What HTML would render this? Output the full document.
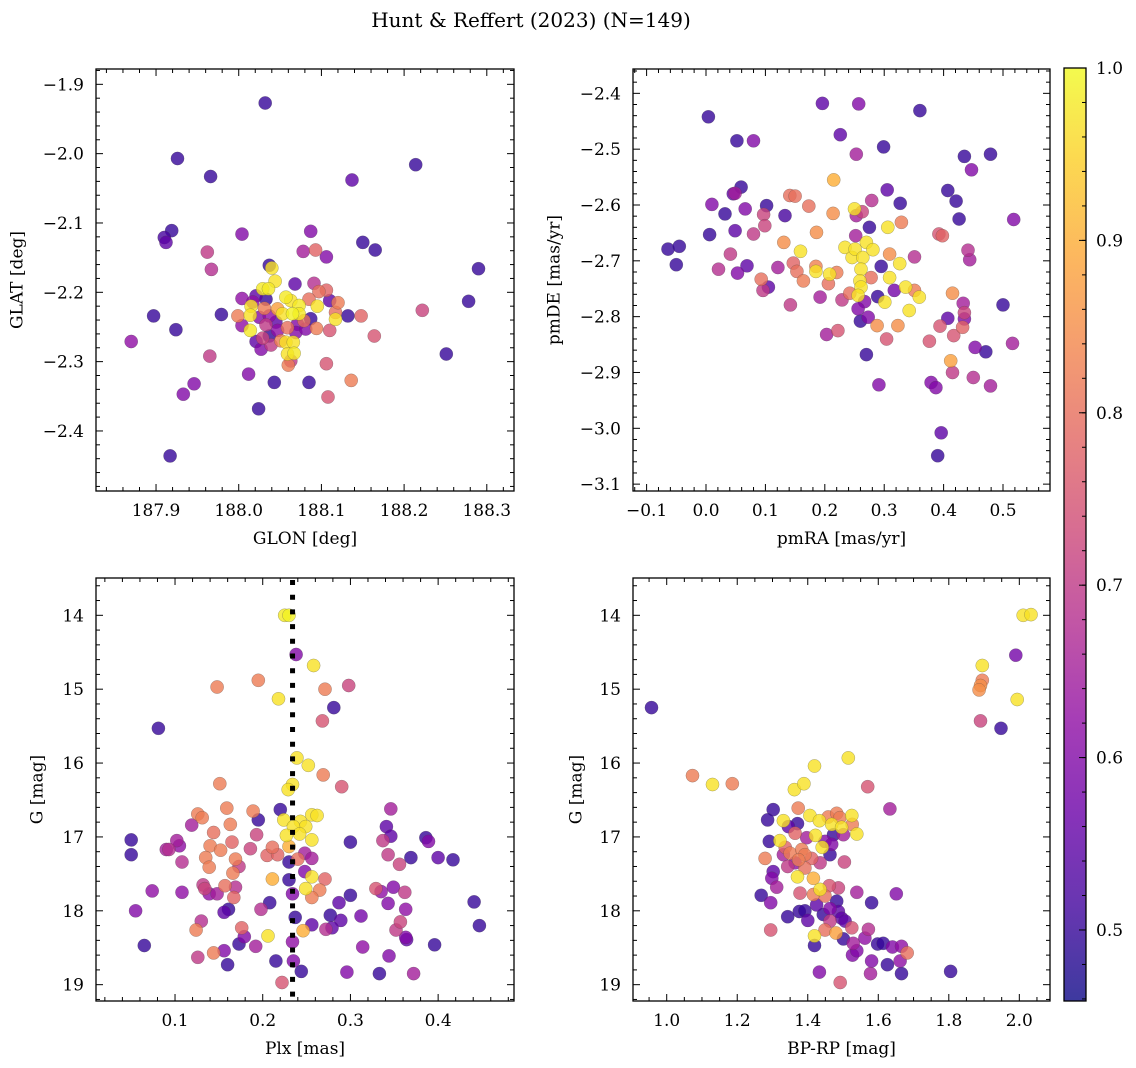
<!DOCTYPE html>
<html><head><meta charset="utf-8"><title>Hunt &amp; Reffert (2023)</title>
<style>
html,body{margin:0;padding:0;background:#fff;}
svg{display:block;font-family:"DejaVu Serif","Liberation Serif",serif;}
</style></head>
<body>
<svg id="fig" width="1136" height="1068" viewBox="0 0 1136 1068" xmlns="http://www.w3.org/2000/svg">
<defs>
<linearGradient id="cbgrad" x1="0" y1="1" x2="0" y2="0">
<stop offset="0" stop-color="#0d0887"/><stop offset="0.1" stop-color="#41049d"/><stop offset="0.2" stop-color="#6a00a8"/><stop offset="0.3" stop-color="#8f0da4"/><stop offset="0.4" stop-color="#b12a90"/><stop offset="0.5" stop-color="#cc4778"/><stop offset="0.6" stop-color="#e16462"/><stop offset="0.7" stop-color="#f2844b"/><stop offset="0.8" stop-color="#fca636"/><stop offset="0.9" stop-color="#fcce25"/><stop offset="1" stop-color="#f0f921"/>
</linearGradient>
</defs>
<text x="531" y="27" text-anchor="middle" font-size="20">Hunt &amp; Reffert (2023) (N=149)</text>
</svg>
<script>
// ---- Panel 1: GLON vs GLAT ----
const tlGlon=[188.032,187.926,187.966,188.214,188.137,187.919,187.910,187.912,188.004,188.087,188.150,188.165,187.962,188.078,188.093,188.106,187.967,188.290,188.037,188.040,188.044,188.068,188.091,188.029,188.036,188.021,188.004,188.097,188.106,188.057,188.063,188.073,188.085,188.110,188.120,188.095,188.278,188.222,188.015,188.031,188.047,188.053,188.065,188.073,188.087,188.117,188.117,188.132,188.148,187.979,187.897,187.999,188.014,188.025,188.037,188.004,188.033,188.059,188.071,188.079,188.094,188.110,188.014,187.924,188.047,188.069,188.164,187.870,188.021,188.029,188.037,188.039,188.027,188.051,188.057,188.066,188.059,188.067,188.063,188.060,187.965,188.106,188.251,188.012,188.043,188.085,188.136,187.946,187.933,188.108,188.024,187.917,188.033,188.045,188.081,188.017];
const tlGlat=[-1.927,-2.007,-2.033,-2.016,-2.038,-2.111,-2.121,-2.128,-2.116,-2.112,-2.128,-2.139,-2.142,-2.141,-2.139,-2.149,-2.167,-2.166,-2.161,-2.165,-2.184,-2.188,-2.187,-2.195,-2.195,-2.205,-2.209,-2.199,-2.197,-2.207,-2.212,-2.219,-2.210,-2.212,-2.215,-2.220,-2.213,-2.226,-2.220,-2.223,-2.224,-2.231,-2.231,-2.231,-2.238,-2.229,-2.239,-2.234,-2.234,-2.232,-2.234,-2.234,-2.233,-2.236,-2.234,-2.248,-2.247,-2.251,-2.246,-2.241,-2.252,-2.255,-2.255,-2.254,-2.255,-2.258,-2.263,-2.271,-2.271,-2.266,-2.263,-2.276,-2.282,-2.270,-2.272,-2.272,-2.289,-2.288,-2.299,-2.305,-2.292,-2.303,-2.289,-2.318,-2.330,-2.330,-2.327,-2.332,-2.347,-2.351,-2.368,-2.436,-2.210,-2.243,-2.253,-2.214];
const tlProb=[.5,.5,.5,.5,.55,.5,.52,.55,.6,.6,.5,.5,.7,.65,.78,.6,.68,.5,.5,.97,.97,.55,.68,.98,.98,.55,.62,.8,.78,.98,.97,.98,.8,.55,.82,.97,.5,.72,.97,.82,.88,.97,.99,.98,.5,.8,.97,.5,.78,.5,.5,.82,.97,.6,.62,.62,.7,.8,.6,.8,.82,.75,.98,.5,.62,.6,.75,.62,.55,.72,.5,.7,.6,.82,.97,.97,.97,.98,.7,.82,.7,.75,.5,.6,.5,.5,.82,.6,.6,.75,.5,.5,.5,.55,.6,.62];
// ---- Panel 2: pmRA vs pmDE ----
const trPmra=[-0.064,-0.045,-0.050,0.004,0.052,0.080,0.006,0.010,0.032,0.049,0.059,0.049,0.046,0.066,0.080,0.041,0.021,0.053,0.069,0.097,0.099,0.102,0.133,0.121,0.093,0.096,0.105,0.142,0.131,0.141,0.150,0.147,0.153,0.164,0.159,0.173,0.186,0.185,0.185,0.192,0.196,0.226,0.215,0.214,0.203,0.222,0.206,0.208,0.220,0.229,0.234,0.246,0.242,0.250,0.253,0.263,0.252,0.253,0.257,0.251,0.264,0.270,0.281,0.261,0.259,0.261,0.256,0.267,0.278,0.275,0.279,0.256,0.273,0.260,0.270,0.288,0.289,0.295,0.301,0.299,0.306,0.305,0.309,0.309,0.317,0.323,0.326,0.327,0.329,0.304,0.291,0.336,0.342,0.359,0.351,0.360,0.351,0.376,0.394,0.392,0.398,0.379,0.387,0.396,0.390,0.407,0.407,0.415,0.417,0.421,0.426,0.412,0.415,0.435,0.433,0.435,0.435,0.432,0.441,0.444,0.447,0.453,0.450,0.471,0.479,0.479,0.500,0.516,0.518];
const trPmde=[-2.679,-2.674,-2.707,-2.442,-2.485,-2.485,-2.653,-2.599,-2.616,-2.646,-2.568,-2.579,-2.580,-2.607,-2.652,-2.688,-2.715,-2.722,-2.709,-2.617,-2.637,-2.601,-2.619,-2.712,-2.733,-2.753,-2.747,-2.779,-2.667,-2.583,-2.584,-2.704,-2.719,-2.736,-2.683,-2.602,-2.649,-2.710,-2.719,-2.765,-2.418,-2.474,-2.555,-2.615,-2.832,-2.825,-2.741,-2.724,-2.721,-2.770,-2.676,-2.694,-2.758,-2.607,-2.619,-2.612,-2.655,-2.509,-2.419,-2.679,-2.694,-2.667,-2.680,-2.715,-2.736,-2.747,-2.762,-2.773,-2.730,-2.640,-2.592,-2.786,-2.801,-2.808,-2.868,-2.816,-2.764,-2.710,-2.774,-2.496,-2.640,-2.573,-2.730,-2.688,-2.753,-2.816,-2.705,-2.597,-2.631,-2.840,-2.922,-2.747,-2.789,-2.765,-2.753,-2.431,-2.693,-2.844,-2.817,-2.652,-2.655,-2.918,-2.927,-3.008,-3.049,-2.574,-2.803,-2.758,-2.834,-2.593,-2.625,-2.879,-2.900,-2.513,-2.776,-2.804,-2.793,-2.819,-2.681,-2.698,-2.537,-2.855,-2.909,-2.863,-2.924,-2.509,-2.779,-2.848,-2.626];
const trProb=[.5,.5,.5,.5,.5,.6,.5,.6,.5,.55,.5,.65,.55,.6,.7,.7,.68,.6,.55,.72,.72,.5,.52,.65,.8,.7,.55,.7,.85,.8,.8,.78,.8,.82,.97,.8,.85,.83,.97,.65,.55,.55,.9,.85,.65,.75,.8,.97,.82,.7,.97,.97,.8,.97,.65,.72,.65,.65,.6,.97,.97,.97,.97,.97,.97,.97,.97,.6,.8,.5,.68,.6,.6,.5,.5,.85,.5,.5,.97,.5,.97,.55,.97,.85,.58,.85,.97,.5,.82,.75,.6,.97,.97,.97,.82,.5,.68,.75,.75,.75,.78,.6,.6,.55,.5,.5,.55,.85,.75,.5,.5,.88,.7,.5,.65,.6,.72,.78,.68,.65,.6,.6,.68,.5,.65,.5,.5,.65,.6];
// ---- Panel 3: Plx vs G ----
const blPlx=[0.225,0.230,0.238,0.258,0.195,0.148,0.271,0.298,0.218,0.281,0.081,0.268,0.239,0.252,0.269,0.151,0.290,0.234,0.229,0.220,0.159,0.189,0.195,0.126,0.131,0.119,0.163,0.144,0.193,0.224,0.243,0.249,0.256,0.262,0.235,0.227,0.242,0.256,0.230,0.050,0.102,0.105,0.090,0.093,0.140,0.152,0.165,0.186,0.211,0.205,0.217,0.248,0.256,0.240,0.230,0.135,0.169,0.173,0.139,0.166,0.108,0.050,0.346,0.341,0.346,0.337,0.386,0.389,0.300,0.343,0.356,0.369,0.400,0.417,0.248,0.256,0.271,0.211,0.230,0.157,0.169,0.132,0.134,0.139,0.148,0.167,0.074,0.108,0.249,0.265,0.256,0.234,0.300,0.329,0.335,0.349,0.362,0.208,0.287,0.343,0.441,0.055,0.156,0.161,0.198,0.363,0.237,0.277,0.289,0.312,0.357,0.130,0.447,0.256,0.246,0.124,0.176,0.179,0.272,0.279,0.206,0.352,0.363,0.364,0.065,0.173,0.192,0.234,0.314,0.396,0.126,0.144,0.156,0.344,0.215,0.235,0.160,0.244,0.296,0.333,0.372,0.222];
const blG=[14.00,14.00,14.53,14.68,14.88,14.97,15.00,14.95,15.13,15.25,15.53,15.43,15.93,16.03,16.16,16.28,16.32,16.29,16.36,16.63,16.61,16.65,16.77,16.69,16.74,16.84,16.83,16.94,16.97,16.77,16.79,16.86,16.70,16.71,16.86,16.98,16.96,17.04,17.13,17.04,17.05,17.12,17.17,17.17,17.12,17.18,17.07,17.16,17.14,17.25,17.24,17.22,17.29,17.30,17.34,17.28,17.30,17.40,17.41,17.49,17.34,17.24,16.62,16.86,16.99,17.05,17.01,17.06,17.07,17.24,17.37,17.28,17.28,17.31,17.47,17.54,17.57,17.57,17.58,17.66,17.68,17.65,17.70,17.77,17.77,17.82,17.73,17.75,17.70,17.72,17.82,17.77,17.79,17.70,17.74,17.68,17.75,17.89,17.89,17.90,17.88,18.00,18.02,17.98,17.98,17.98,18.09,18.06,18.13,18.07,18.15,18.14,18.20,18.19,18.27,18.26,18.23,18.35,18.25,18.23,18.34,18.26,18.36,18.39,18.47,18.45,18.48,18.42,18.49,18.46,18.63,18.57,18.54,18.61,18.68,18.68,18.73,18.82,18.83,18.85,18.85,18.97];
const blProb=[.98,.99,.6,.97,.82,.82,.82,.72,.97,.5,.5,.75,.97,.97,.82,.82,.75,.97,.97,.5,.82,.82,.5,.82,.82,.65,.82,.8,.72,.97,.97,.97,.97,.97,.97,.97,.97,.97,.9,.5,.65,.62,.65,.68,.82,.82,.78,.72,.8,.78,.78,.65,.65,.8,.5,.82,.82,.7,.82,.82,.68,.5,.65,.55,.55,.7,.5,.6,.5,.7,.72,.5,.55,.5,.6,.97,.78,.9,.5,.8,.68,.7,.72,.62,.65,.78,.62,.62,.97,.82,.82,.6,.5,.75,.62,.6,.7,.5,.55,.6,.5,.6,.55,.5,.68,.62,.5,.5,.55,.58,.72,.68,.5,.55,.9,.82,.78,.6,.68,.55,.97,.7,.6,.55,.5,.5,.65,.62,.62,.5,.7,.82,.6,.6,.5,.6,.5,.5,.6,.5,.65,.75];
// ---- Panel 4: BP-RP vs G ----
const brColor=[0.957,1.073,1.130,1.186,1.362,1.389,1.419,1.515,1.570,1.633,1.302,1.286,1.331,1.371,1.345,1.373,1.406,1.433,1.458,1.482,1.491,1.525,1.526,1.468,1.496,1.473,1.539,1.501,1.291,1.321,1.364,1.397,1.422,1.449,1.468,1.441,1.336,1.350,1.383,1.392,1.411,1.331,1.374,1.279,1.435,1.463,1.504,1.343,1.364,1.392,1.302,1.298,1.371,1.416,1.312,1.435,1.461,1.487,1.378,1.416,1.539,1.651,1.268,1.295,1.449,1.482,1.581,1.425,1.463,1.376,1.392,1.487,1.343,1.400,1.444,1.463,1.496,1.506,1.525,1.572,1.295,1.419,1.449,1.480,1.501,1.562,1.419,1.529,1.598,1.614,1.640,1.666,1.682,1.527,1.539,1.662,1.581,1.626,1.433,1.578,1.666,1.805,1.492,2.011,2.033,1.990,1.895,1.895,1.890,1.886,1.994,1.890,1.948];
const brG=[15.25,16.17,16.29,16.28,16.36,16.28,16.04,15.93,16.32,16.62,16.63,16.77,16.78,16.82,16.86,16.61,16.71,16.78,16.73,16.68,16.74,16.71,16.83,16.83,16.87,16.97,16.96,16.97,17.06,17.05,16.95,17.01,16.98,17.06,17.10,17.14,17.14,17.22,17.17,17.24,17.29,17.24,17.31,17.29,17.35,17.24,17.34,17.40,17.35,17.42,17.47,17.56,17.54,17.56,17.68,17.71,17.66,17.69,17.76,17.78,17.75,17.77,17.79,17.89,17.80,17.87,17.89,17.92,17.97,18.01,18.00,18.01,18.08,18.13,18.05,18.14,18.10,18.14,18.23,18.25,18.26,18.34,18.26,18.30,18.38,18.37,18.47,18.44,18.45,18.44,18.49,18.48,18.57,18.60,18.54,18.68,18.68,18.73,18.83,18.85,18.85,18.82,18.97,14.00,13.99,14.54,14.68,14.88,14.95,15.01,15.14,15.43,15.53];
const brProb=[.5,.82,.97,.82,.97,.97,.97,.97,.75,.65,.5,.5,.97,.5,.55,.82,.97,.97,.82,.82,.82,.97,.82,.97,.97,.5,.97,.65,.5,.97,.78,.65,.97,.6,.6,.97,.78,.82,.82,.82,.78,.65,.82,.82,.7,.5,.72,.7,.62,.8,.55,.6,.97,.9,.65,.97,.75,.72,.75,.82,.65,.6,.5,.6,.8,.5,.5,.55,.6,.5,.5,.55,.5,.55,.5,.7,.55,.55,.75,.68,.75,.97,.8,.88,.5,.62,.5,.65,.5,.5,.6,.62,.8,.6,.6,.62,.6,.5,.6,.65,.5,.5,.75,.97,.97,.58,.97,.82,.85,.85,.97,.72,.5];
// ---- Colorbar ticks ----
const cbTicks=[0.5,0.6,0.7,0.8,0.9,1.0];
const cbMin=0.4588, cbMax=1.0;
const refLinePlx=0.234;

const NS="http://www.w3.org/2000/svg";
const svg=document.getElementById('fig');
function el(tag,attrs,parent){const e=document.createElementNS(NS,tag);for(const k in attrs)e.setAttribute(k,attrs[k]);(parent||svg).appendChild(e);return e;}
const stops=["#0d0887","#41049d","#6a00a8","#8f0da4","#b12a90","#cc4778","#e16462","#f2844b","#fca636","#fcce25","#f0f921"];
function hex(h){return [parseInt(h.slice(1,3),16),parseInt(h.slice(3,5),16),parseInt(h.slice(5,7),16)];}
function plasma(v){let t=(v-cbMin)/(cbMax-cbMin);t=Math.max(0,Math.min(1,t));const f=t*10,i=Math.min(9,Math.floor(f)),r=f-i;const a=hex(stops[i]),b=hex(stops[i+1]);return "rgb("+a.map((c,k)=>Math.round(c+(b[k]-c)*r)).join(",")+")";}
function fmt(v,d){const s=Math.abs(v).toFixed(d);return (v<-1e-9?"\u2212":"")+s;}

const panels=[
 {key:"glon-glat",x0:96,x1:514,y0:69,y1:491,xmin:187.8274,xmax:188.3329,ymin:-2.4866,ymax:-1.8779,inv:false,xs:tlGlon,ys:tlGlat,ps:tlProb,xMaj:0.1,xMin:0.02,yMaj:0.1,yMin:0.02,xd:1,yd:1,xl:"GLON [deg]",yl:"GLAT [deg]",ylx:18},
 {key:"pmra-pmde",x0:633,x1:1050,y0:69,y1:491,xmin:-0.1229,xmax:0.5791,ymin:-3.1123,ymax:-2.3564,inv:false,xs:trPmra,ys:trPmde,ps:trProb,xMaj:0.1,xMin:0.02,yMaj:0.1,yMin:0.02,xd:1,yd:1,xl:"pmRA [mas/yr]",yl:"pmDE [mas/yr]",ylx:555},
 {key:"plx-g",x0:96,x1:514,y0:578,y1:1001,xmin:0.0099,xmax:0.4865,ymin:13.495,ymax:19.221,inv:true,xs:blPlx,ys:blG,ps:blProb,xMaj:0.1,xMin:0.02,yMaj:1,yMin:0.2,xd:1,yd:0,xl:"Plx [mas]",yl:"G [mag]",ylx:38},
 {key:"color-g",x0:633,x1:1050,y0:578,y1:1001,xmin:0.9044,xmax:2.087,ymin:13.495,ymax:19.221,inv:true,xs:brColor,ys:brG,ps:brProb,xMaj:0.2,xMin:0.05,yMaj:1,yMin:0.2,xd:1,yd:0,xl:"BP-RP [mag]",yl:"G [mag]",ylx:577}
];

panels.forEach((P,pi)=>{
  const g=el('g',{});
  
  
  const X=v=>P.x0+(v-P.xmin)/(P.xmax-P.xmin)*(P.x1-P.x0);
  const Y=v=>P.inv?P.y0+(v-P.ymin)/(P.ymax-P.ymin)*(P.y1-P.y0):P.y1-(v-P.ymin)/(P.ymax-P.ymin)*(P.y1-P.y0);
  const n=Math.min(P.xs.length,P.ys.length,P.ps.length);
  const idx=[];for(let i=0;i<n;i++)idx.push(i);
  idx.sort((a,b)=>P.ps[a]-P.ps[b]);
  const clip=el('clipPath',{id:'clip'+pi},g);
  el('rect',{x:P.x0,y:P.y0,width:P.x1-P.x0,height:P.y1-P.y0},clip);
  const pg=el('g',{'clip-path':'url(#clip'+pi+')'},g);
  
  
  idx.forEach(i=>{
    const c=el('circle',{cx:X(P.xs[i]).toFixed(1),cy:Y(P.ys[i]).toFixed(1),r:6.6,fill:plasma(P.ps[i]),'fill-opacity':0.8,stroke:'#444','stroke-opacity':0.45,'stroke-width':0.5},pg);
    
    
  });
  if(P.key==="plx-g"){
    const ln=el('line',{x1:X(refLinePlx),x2:X(refLinePlx),y1:P.y0+2,y2:P.y1,stroke:'#000','stroke-width':5,'stroke-dasharray':'5 9.7'},g);
    
    
  }
  const tg=el('g',{stroke:'#000','stroke-width':1},g);
  
  
  const eps=1e-6;
  let s=Math.ceil((P.xmin-eps)/P.xMin)*P.xMin;
  for(let v=s;v<=P.xmax+eps;v+=P.xMin){
    const isMaj=Math.abs(v/P.xMaj-Math.round(v/P.xMaj))<1e-4;const L=isMaj?7:4;const x=X(v);
    el('line',{x1:x,x2:x,y1:P.y1,y2:P.y1-L},tg);el('line',{x1:x,x2:x,y1:P.y0,y2:P.y0+L},tg);
    if(isMaj){const t=el('text',{x:x,y:P.y1+25,'text-anchor':'middle','font-size':17,stroke:'none',fill:'#000'},g);t.textContent=fmt(v,P.xd);
      }
  }
  s=Math.ceil((P.ymin-eps)/P.yMin)*P.yMin;
  for(let v=s;v<=P.ymax+eps;v+=P.yMin){
    const isMaj=Math.abs(v/P.yMaj-Math.round(v/P.yMaj))<1e-4;const L=isMaj?7:4;const y=Y(v);
    el('line',{x1:P.x0,x2:P.x0+L,y1:y,y2:y},tg);el('line',{x1:P.x1,x2:P.x1-L,y1:y,y2:y},tg);
    if(isMaj){const t=el('text',{x:P.x0-12,y:y+6,'text-anchor':'end','font-size':17,stroke:'none',fill:'#000'},g);t.textContent=fmt(v,P.yd);
      }
  }
  const fr=el('rect',{x:P.x0,y:P.y0,width:P.x1-P.x0,height:P.y1-P.y0,fill:'none',stroke:'#000','stroke-width':1.3},g);
  
  const xt=el('text',{x:(P.x0+P.x1)/2,y:P.y1+53,'text-anchor':'middle','font-size':17},g);xt.textContent=P.xl;
  
  const cy=(P.y0+P.y1)/2;
  const yt=el('text',{x:P.ylx,y:cy,'text-anchor':'middle','font-size':17,transform:'rotate(-90 '+P.ylx+' '+cy+')','dominant-baseline':'middle'},g);yt.textContent=P.yl;
  
});

const cb=el('g',{});


const cbx0=1064,cbx1=1086,cby0=68,cby1=1001;
const CY=v=>cby1-(v-cbMin)/(cbMax-cbMin)*(cby1-cby0);
el('rect',{x:cbx0,y:cby0,width:cbx1-cbx0,height:cby1-cby0,fill:'url(#cbgrad)','fill-opacity':0.8},cb);
el('rect',{x:cbx0,y:cby0,width:cbx1-cbx0,height:cby1-cby0,fill:'none',stroke:'#000','stroke-width':1.3},cb);
for(let k=Math.ceil(cbMin/0.02);k*0.02<=cbMax+1e-6;k++){
  const v=k*0.02;const y=CY(v);el('line',{x1:cbx1,x2:cbx1-4,y1:y,y2:y,stroke:'#000','stroke-width':1},cb);
}
cbTicks.forEach(v=>{
  const y=CY(v);el('line',{x1:cbx1,x2:cbx1-7,y1:y,y2:y,stroke:'#000','stroke-width':1},cb);
  const t=el('text',{x:cbx1+10,y:y+6,'font-size':17},cb);t.textContent=v.toFixed(1);
  
});
</script>
</body></html>
